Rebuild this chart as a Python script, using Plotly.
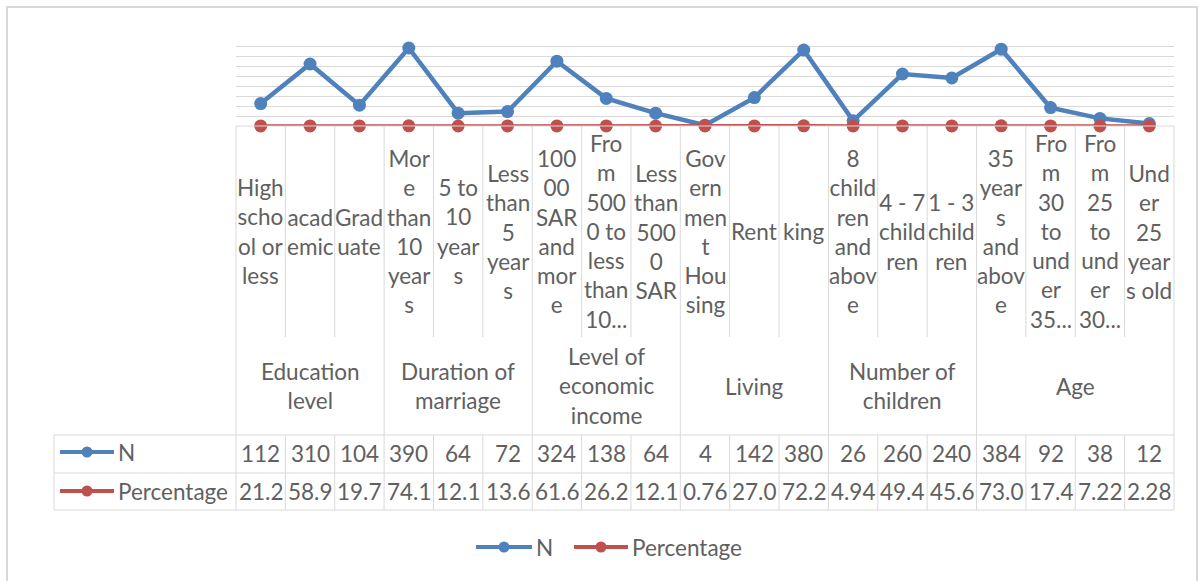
import plotly.graph_objects as go

# ---------------- data ----------------
categories = [
    "High\nscho\nol or\nless", "acad\nemic", "Grad\nuate",
    "Mor\ne\nthan\n10\nyear\ns", "5 to\n10\nyear\ns", "Less\nthan\n5\nyear\ns",
    "100\n00\nSAR\nand\nmor\ne", "Fro\nm\n500\n0 to\nless\nthan\n10...", "Less\nthan\n500\n0\nSAR",
    "Gov\nern\nmen\nt\nHou\nsing", "Rent", "king",
    "8\nchild\nren\nand\nabov\ne", "4 - 7\nchild\nren", "1 - 3\nchild\nren",
    "35\nyear\ns\nand\nabov\ne", "Fro\nm\n30\nto\nund\ner\n35...", "Fro\nm\n25\nto\nund\ner\n30...",
    "Und\ner\n25\nyear\ns old",
]
groups = ["Education\nlevel", "Duration of\nmarriage", "Level of\neconomic\nincome",
          "Living", "Number of\nchildren", "Age"]
group_sizes = [3, 3, 3, 3, 3, 4]
n_values = [112, 310, 104, 390, 64, 72, 324, 138, 64, 4, 142, 380, 26, 260, 240, 384, 92, 38, 12]
pct_values = [21.2, 58.9, 19.7, 74.1, 12.1, 13.6, 61.6, 26.2, 12.1, 0.76, 27.0, 72.2,
              4.94, 49.4, 45.6, 73.0, 17.4, 7.22, 2.28]
series_names = ["N", "Percentage"]

# ---------------- styling ----------------
W, H = 1198, 581
L, R, T, B = 236, 24, 36, 71          # plot area 236..1174 x 36..510
PW, PH = W - L - R, H - T - B
BLUE, RED = "#4F81BD", "#C0504D"
GRID = "#d9d9d9"
TXT = "#606060"
FONT = "Lato"
FS = 22.5


def fx(p):
    return (p - L) / PW


def fy(p):
    return (H - B - p) / PH


base_px = 126
ydom0 = fy(base_px)
n = len(categories)

fig = go.Figure()
fig.add_trace(go.Scatter(
    x=list(range(n)), y=n_values, name=series_names[0], mode="lines+markers",
    line=dict(color=BLUE, width=4.5), marker=dict(color=BLUE, size=13),
    cliponaxis=False, showlegend=False))
fig.add_trace(go.Scatter(
    x=list(range(n)), y=[v / 100 for v in pct_values], name=series_names[1],
    mode="lines+markers", customdata=pct_values, hovertemplate="%{customdata}<extra>Percentage</extra>",
    line=dict(color=RED, width=3.5), marker=dict(color=RED, size=13),
    cliponaxis=False, showlegend=False))

shapes = []
ann = []


def hline(py, x0p, x1p, color=GRID, w=1):
    shapes.append(dict(type="line", xref="paper", yref="paper", x0=fx(x0p), x1=fx(x1p),
                       y0=fy(py), y1=fy(py), line=dict(color=color, width=w)))


# outer chart border
shapes.append(dict(type="rect", xref="paper", yref="paper", x0=fx(7), x1=fx(1197),
                   y0=fy(600), y1=fy(7), line=dict(color="#d9d9d9", width=2), layer="below"))

# table horizontal lines
hline(base_px, 236, 1174)
hline(435, 54, 1174)
hline(473, 54, 1174)
hline(510, 54, 1174)
# table outer verticals
for xp, y0p in [(54, 435), (236, base_px), (1174, base_px)]:
    shapes.append(dict(type="line", xref="paper", yref="paper", x0=fx(xp), x1=fx(xp),
                       y0=fy(y0p), y1=fy(510), line=dict(color=GRID, width=1)))

# category separators
bounds = []
acc = 0
for s in group_sizes:
    acc += s
    bounds.append(acc)
for i in range(1, n):
    xv = i - 0.5
    if i in bounds:
        shapes.append(dict(type="line", xref="x", yref="paper", x0=xv, x1=xv,
                           y0=fy(base_px), y1=fy(510), line=dict(color=GRID, width=1)))
    else:
        shapes.append(dict(type="line", xref="x", yref="paper", x0=xv, x1=xv,
                           y0=fy(base_px), y1=fy(337), line=dict(color=GRID, width=1)))
        shapes.append(dict(type="line", xref="x", yref="paper", x0=xv, x1=xv,
                           y0=fy(435), y1=fy(510), line=dict(color=GRID, width=1)))

TF = dict(family=FONT, size=FS, color=TXT)

# category labels
for i, c in enumerate(categories):
    ann.append(dict(xref="x", yref="paper", x=i, y=fy(231.5), text=c.replace("\n", "<br>"),
                    showarrow=False, xanchor="center", yanchor="middle", font=TF))
# group labels
start = 0
for g, s in zip(groups, group_sizes):
    ann.append(dict(xref="x", yref="paper", x=start + (s - 1) / 2, y=fy(386),
                    text=g.replace("\n", "<br>"), showarrow=False, xanchor="center",
                    yanchor="middle", font=TF))
    start += s


def fmt_pct(v):
    return f"{v:.1f}" if v >= 10 else f"{v:.2f}"


for i in range(n):
    ann.append(dict(xref="x", yref="paper", x=i, y=fy(453), text=str(n_values[i]),
                    showarrow=False, xanchor="center", yanchor="middle", font=TF))
    ann.append(dict(xref="x", yref="paper", x=i, y=fy(491), text=fmt_pct(pct_values[i]),
                    showarrow=False, xanchor="center", yanchor="middle", font=TF))


def key(x0p, x1p, cy, color, lw, d, label):
    shapes.append(dict(type="line", xref="paper", yref="paper", x0=fx(x0p), x1=fx(x1p),
                       y0=fy(cy), y1=fy(cy), line=dict(color=color, width=lw)))
    cx = (x0p + x1p) / 2
    shapes.append(dict(type="circle", xref="paper", yref="paper", x0=fx(cx - d / 2),
                       x1=fx(cx + d / 2), y0=fy(cy + d / 2), y1=fy(cy - d / 2),
                       fillcolor=color, line=dict(color=color, width=0)))
    ann.append(dict(xref="paper", yref="paper", x=fx(x1p + 2), y=fy(cy), text=label,
                    showarrow=False, xanchor="left", yanchor="middle", font=TF))


# keys in table rows
key(60, 114, 452, BLUE, 4, 11, series_names[0])
key(60, 114, 491, RED, 4, 11, series_names[1])
# bottom legend
key(476, 532, 547, BLUE, 4, 11, series_names[0])
key(574, 628, 547, RED, 4, 11, series_names[1])

fig.update_layout(
    width=W, height=H, margin=dict(l=L, r=R, t=T, b=B),
    paper_bgcolor="white", plot_bgcolor="white",
    shapes=shapes, annotations=ann, showlegend=False,
    xaxis=dict(range=[-0.5, n - 0.5], visible=False, fixedrange=True),
    yaxis=dict(domain=[ydom0, 1], range=[0, 450], dtick=50, showgrid=True, gridcolor=GRID,
               gridwidth=1, zeroline=False, showticklabels=False, showline=False),
    font=dict(family=FONT, color=TXT),
)

fig.write_html("out.html", config={"displayModeBar": False},
               post_script="document.body.style.margin='0';document.body.style.overflow='hidden';")
